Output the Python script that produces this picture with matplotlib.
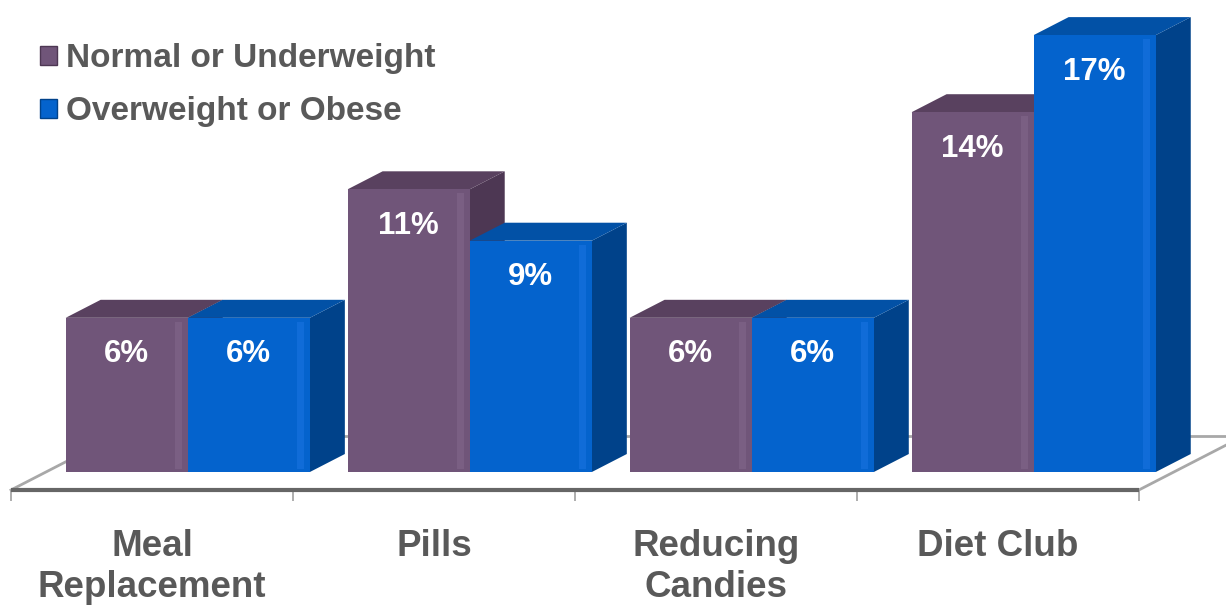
import matplotlib.pyplot as plt
from matplotlib.patches import Polygon, Patch

plt.rcParams['font.family'] = ['Liberation Sans', 'DejaVu Sans']

categories = ['Meal\nReplacement', 'Pills', 'Reducing\nCandies', 'Diet Club']
series = ['Normal or Underweight', 'Overweight or Obese']
normal = [6, 11, 6, 14]
overweight = [6, 9, 6, 17]
labels_normal = ['6%', '11%', '6%', '14%']
labels_overweight = ['6%', '9%', '6%', '17%']

# front / top / side shades for each series
colors = [
    ('#705579', '#59415F', '#4D3753'),
    ('#0463CD', '#0251A6', '#00428A'),
]
highlight = ['#7A5F83', '#106CD8']
text_grey = '#595959'

fig = plt.figure(figsize=(12.26, 6.05), dpi=100)
ax = fig.add_axes([0, 0, 1, 1])
ax.set_xlim(-0.539, 3.809)
ax.set_ylim(-133 / 25.7, 472 / 25.7)
ax.axis('off')

# one step of depth, in data units
ddx, ddy = 0.124, 0.70
w = 0.433
n = len(categories)

# floor
floor = Polygon([(-0.5, -ddy), (n - 0.5, -ddy), (n - 0.5 + 3 * ddx, 2 * ddy),
                 (-0.5 + 3 * ddx, 2 * ddy)], closed=True, facecolor='white',
                edgecolor='none', zorder=1)
ax.add_patch(floor)
ax.plot([-0.5, -0.5 + 3 * ddx], [-ddy, 2 * ddy], color='#A8A8A8', lw=2, zorder=1.5)
ax.plot([n - 0.5, n - 0.5 + 3 * ddx], [-ddy, 2 * ddy], color='#A8A8A8', lw=2, zorder=1.5)
ax.plot([-0.5 + 3 * ddx, n - 0.5 + 3 * ddx], [2 * ddy, 2 * ddy], color='#A8A8A8', lw=2, zorder=1.2)
ax.plot([-0.5, n - 0.5], [-ddy, -ddy], color='#666666', lw=3, zorder=1.6, solid_capstyle='butt')
ax.vlines([i - 0.5 for i in range(n + 1)], -ddy - 11 / 25.7, -ddy, color='#A0A0A0', lw=1.2, zorder=1.5)

z = 2
for i in range(n):
    for j, (vals, labs) in enumerate([(normal, labels_normal), (overweight, labels_overweight)]):
        v = vals[i]
        front, top, side = colors[j]
        x0 = i - 0.43 + j * w + ddx
        ax.add_patch(Polygon([(x0 + w, 0), (x0 + w + ddx, ddy), (x0 + w + ddx, v + ddy), (x0 + w, v)],
                             closed=True, facecolor=side, edgecolor='none', zorder=z))
        ax.add_patch(Polygon([(x0, v), (x0 + w, v), (x0 + w + ddx, v + ddy), (x0 + ddx, v + ddy)],
                             closed=True, facecolor=top, edgecolor='none', zorder=z))
        ax.bar(x0, v, width=w, align='edge', color=front, edgecolor='none', zorder=z + 0.1)
        # soft bevel near the right edge of the front face
        ax.bar(x0 + w - 0.045, v - 0.25, width=0.025, bottom=0.1, align='edge',
               color=highlight[j], edgecolor='none', zorder=z + 0.2)
        ax.text(x0 + w / 2, v - 1.42, labs[i], ha='center', va='center', color='white',
                fontsize=22.5, fontweight='bold', zorder=z + 0.3)
        z += 1

for i, cat in enumerate(categories):
    ax.text(i, -2.2, cat, ha='center', va='top', color=text_grey, fontsize=26.5,
            fontweight='bold', linespacing=1.25)

handles = [Patch(facecolor=colors[0][0], edgecolor=colors[0][2]),
           Patch(facecolor=colors[1][0], edgecolor=colors[1][2])]
leg = fig.legend(handles, series, loc='upper left', bbox_to_anchor=(40 / 1226, 1 - 43 / 605),
                 frameon=False, handlelength=0.5, handleheight=0.5, handletextpad=0.27,
                 borderpad=0, borderaxespad=0, labelspacing=0.67,
                 prop={'size': 24, 'weight': 'bold'})
for t in leg.get_texts():
    t.set_color(text_grey)

fig.savefig('out.png', dpi=100)
